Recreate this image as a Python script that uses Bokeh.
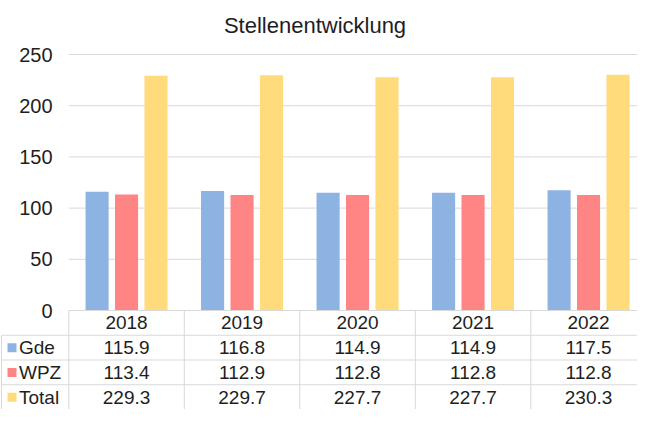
from bokeh.plotting import figure
from bokeh.models import Range1d
from bokeh.core.properties import value
from bokeh.embed import file_html
from bokeh.resources import INLINE

# ---------------- data ----------------
title_text = "Stellenentwicklung"
years = ["2018", "2019", "2020", "2021", "2022"]
gde = [115.9, 116.8, 114.9, 114.9, 117.5]
wpz = [113.4, 112.9, 112.8, 112.8, 112.8]
total = [229.3, 229.7, 227.7, 227.7, 230.3]
series_names = ["Gde", "WPZ", "Total"]
series_colors = ["#8DB3E2", "#FF8484", "#FFDB7C"]
y_ticks = [0, 50, 100, 150, 200, 250]

# ---------------- layout (pixels, figure coords) ----------------
W, H = 637, 409
X0_PX = 68.3      # left edge of first category band
CAT_PX = 115.5    # width of one category band
Y0_PX = 310.0     # pixel row of value 0
UNIT_PX = 1.024   # pixels per value unit
N_ROWS = 4
ROW_PX = (H - Y0_PX) / N_ROWS
FONT = value("Liberation Sans")
TXT = "#1e1e1e"
LINE = "#d9d9d9"


def x_of(px):
    return (px - X0_PX) / CAT_PX


def y_of(py):
    return (Y0_PX - py) / UNIT_PX


n = len(years)
series = [gde, wpz, total]

p = figure(width=W, height=H, output_backend="svg", toolbar_location=None,
           x_range=Range1d(x_of(0), x_of(W)), y_range=Range1d(y_of(H), y_of(0)),
           x_axis_location=None, y_axis_location=None, min_border=0,
           background_fill_color="white", border_fill_color="white")
p.outline_line_color = None
p.grid.grid_line_color = None

# gridlines
grid_vals = [t for t in y_ticks if t > 0]
p.segment(x0=[0] * len(grid_vals), x1=[n] * len(grid_vals), y0=grid_vals, y1=grid_vals,
          line_color=LINE, line_width=1)

# bars
bar_w = 0.2
offsets = [-0.255, 0.0, 0.255]
for vals, name, col, off in zip(series, series_names, series_colors, offsets):
    xs = [i + 0.5 + off for i in range(n)]
    p.vbar(x=xs, top=vals, width=bar_w, bottom=0, fill_color=col, line_color=None)

# y tick labels
p.text(x=[x_of(52)] * len(y_ticks), y=y_ticks, text=[str(t) for t in y_ticks],
       text_font=FONT, text_font_size="20px", text_color=TXT,
       text_align="right", text_baseline="middle")

# title
p.text(x=[x_of(314.5)], y=[y_of(25)], text=[title_text], text_font=FONT,
       text_font_size="22px", text_color=TXT, text_align="center",
       text_baseline="alphabetic")

# ---------------- data table ----------------
row_edges = [y_of(Y0_PX + ROW_PX * k) for k in range(N_ROWS + 1)]
row_centers = [y_of(Y0_PX + ROW_PX * (k + 0.5)) for k in range(N_ROWS)]
left_x = x_of(1)

# horizontal lines
p.segment(x0=[0], x1=[n], y0=[row_edges[0]], y1=[row_edges[0]], line_color=LINE, line_width=1)
hx = [row_edges[k] for k in range(1, N_ROWS)]
p.segment(x0=[left_x] * len(hx), x1=[n] * len(hx), y0=hx, y1=hx, line_color=LINE, line_width=1)
# vertical lines
vx = list(range(n + 1))
p.segment(x0=vx, x1=vx, y0=[row_edges[0]] * len(vx), y1=[row_edges[-1]] * len(vx),
          line_color=LINE, line_width=1)
p.segment(x0=[left_x], x1=[left_x], y0=[row_edges[1]], y1=[row_edges[-1]],
          line_color=LINE, line_width=1)

# header row
p.text(x=[i + 0.5 for i in range(n)], y=[row_centers[0]] * n, text=years,
       text_font=FONT, text_font_size="19px", text_color=TXT,
       text_align="center", text_baseline="middle")

# value rows with legend keys
for k, (vals, name, col) in enumerate(zip(series, series_names, series_colors)):
    yc = row_centers[k + 1]
    p.text(x=[i + 0.5 for i in range(n)], y=[yc] * n, text=[f"{v:.1f}" for v in vals],
           text_font=FONT, text_font_size="19px", text_color=TXT,
           text_align="center", text_baseline="middle")
    p.scatter(x=[x_of(11.5)], y=[yc], marker="square", size=9, fill_color=col, line_color=None)
    p.text(x=[x_of(18.5)], y=[yc], text=[name], text_font=FONT, text_font_size="19px",
           text_color=TXT, text_align="left", text_baseline="middle")

open("out.html", "w").write(file_html(p, INLINE))
